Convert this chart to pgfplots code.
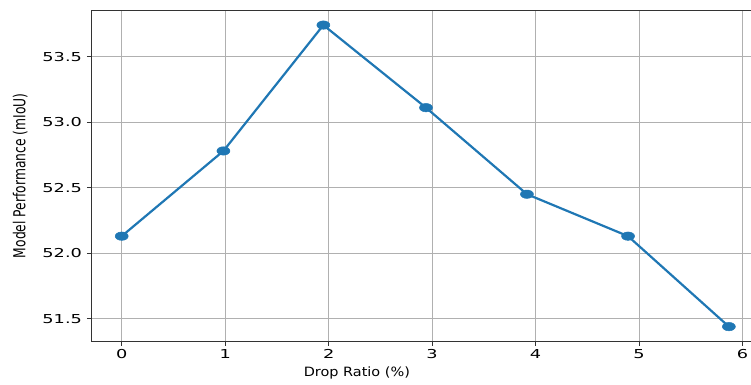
\documentclass[border=0pt]{standalone}
\usepackage{pgfplots}
\pgfplotsset{compat=1.18}
\usepackage{fontspec}
\setmainfont{DejaVu Sans}
\definecolor{mplblue}{HTML}{1F77B4}
\definecolor{gridgray}{HTML}{B0B0B0}
\begin{document}
\begin{tikzpicture}
\begin{axis}[
  scale only axis,
  width=668pt, height=331.7pt,
  at={(91pt,42.3pt)}, anchor=south west,
  xmin=-0.297, xmax=6.16,
  ymin=51.325, ymax=53.855,
  axis x line=box,
  axis y line*=left,
  xtick={0,1,2,3,4,5,6},
  ytick={51.5,52.0,52.5,53.0,53.5},
  grid=major,
  major grid style={gridgray, line width=0.9pt},
  axis line style={black!80, line width=1pt, -},
  tick align=outside,
  xtick pos=bottom,
  ytick pos=left,
  major tick length=4pt,
  tick style={black!80, line width=1pt},
  /pgf/number format/assume math mode=true,
  tick label style={font=\fontsize{12.3}{14}\selectfont, xscale=1.44},
  yticklabel style={/pgf/number format/.cd, fixed, fixed zerofill, precision=1},
  xlabel={Drop Ratio (\%)},
  xlabel style={font=\fontsize{12.8}{14}\selectfont, xscale=1.13, at={(axis description cs:0.398,-0.094)}, anchor=center},
  ylabel={\scalebox{1}[1.34]{Model Performance (mIoU)}},
  ylabel style={font=\fontsize{12.3}{14}\selectfont, at={(axis description cs:-0.106,0.5)}, anchor=center, rotate=0},
  clip=false,
]
\addplot[mplblue, line width=2.2pt, mark=*, mark size=4.2pt, mark options={xscale=1.55, fill=mplblue, draw=mplblue, line width=0.5pt}]
coordinates {
(0,52.13) (0.983,52.78) (1.949,53.74) (2.941,53.11) (3.917,52.45) (4.894,52.13) (5.869,51.44)
};
\end{axis}
\pgfresetboundingbox
\useasboundingbox (0,0) rectangle (751pt,384pt);
\end{tikzpicture}
\end{document}
